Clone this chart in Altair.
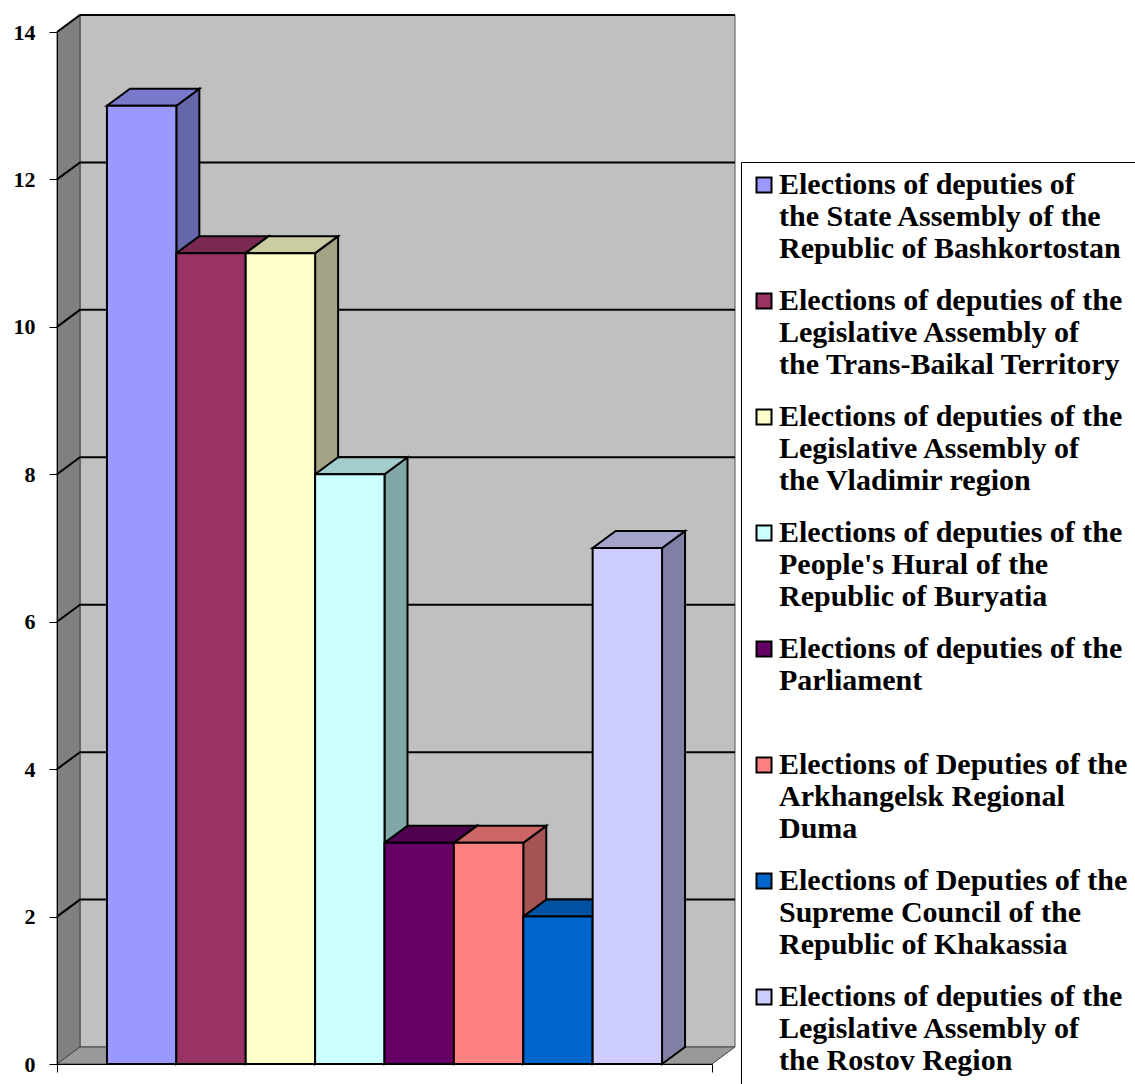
import altair as alt
import pandas as pd

# ---------------- data ----------------
series_lines = [
    ["\u00a0Elections of deputies of", "the State Assembly of the", "Republic of Bashkortostan"],
    ["Elections of deputies of the", "Legislative Assembly of", "the Trans-Baikal Territory"],
    ["Elections of deputies of the", "Legislative Assembly of", "the Vladimir region"],
    ["Elections of deputies of the", "People's Hural of the", "Republic of Buryatia"],
    ["Elections of deputies of the", "Parliament", "\u00a0"],
    ["Elections of Deputies of the", "Arkhangelsk Regional", "Duma"],
    ["Elections of Deputies of the", "Supreme Council of the", "Republic of Khakassia"],
    ["Elections of deputies of the", "Legislative Assembly of", "the Rostov Region", "\u00a0"],
]
values = [13, 11, 11, 8, 3, 3, 2, 7]
y_ticks = [0, 2, 4, 6, 8, 10, 12, 14]

front_colors = ["#9999FF", "#993366", "#FFFFCC", "#CCFFFF", "#660066", "#FF8080", "#0066CC", "#CCCCFF"]
top_colors = ["#7A7ACC", "#7A2952", "#CCCCA3", "#A3CCCC", "#520052", "#CC6666", "#0052A3", "#A3A3CC"]
side_colors = ["#6666AA", "#661F44", "#A3A385", "#80A8A8", "#440044", "#A65353", "#004488", "#8080A6"]

series = ["|".join(lines) for lines in series_lines]

# ---------------- layout ----------------
PLOT_W, PLOT_H = 655, 1032
Y_MAX = 14
GAP = 0.72                      # empty space (in bar slots) at each end
X_MAX = len(values) + 2 * GAP
DX = 23 / (PLOT_W / X_MAX)      # depth offset, horizontal (data units)
DY = 17 / (PLOT_H / Y_MAX)      # depth offset, vertical (data units)

xs = alt.Scale(domain=[0, X_MAX], nice=False, zero=False)
ys = alt.Scale(domain=[0, Y_MAX], nice=False, zero=False)

x_axis = alt.Axis(values=[0, X_MAX], labels=False, title=None, tickSize=8,
                  tickColor="#000000", domainColor="#000000", grid=False, zindex=1)
y_axis = alt.Axis(values=y_ticks, title=None, tickSize=8, tickColor="#000000",
                  domainColor="#000000", grid=False, labelPadding=14,
                  labelFont="Liberation Serif", labelFontSize=22,
                  labelFontWeight="bold", labelColor="#000000", zindex=1)

# ---------------- geometry tables ----------------
front_rows, top_rows, side_rows = [], [], []
for i, (s, v) in enumerate(zip(series, values)):
    x0, x1 = GAP + i, GAP + i + 1
    front_rows.append(dict(series=s, x=x0, x2=x1, y=0, y2=v))
    top_rows.append(dict(series=s, y=v, x=x0, x2=x1))
    top_rows.append(dict(series=s, y=v + DY, x=x0 + DX, x2=x1 + DX))
    side_rows.append(dict(series=s, x=x1, y=0, y2=v))
    side_rows.append(dict(series=s, x=x1 + DX, y=DY, y2=v + DY))
front_df = pd.DataFrame(front_rows)
top_df = pd.DataFrame(top_rows)
side_df = pd.DataFrame(side_rows)

back_df = pd.DataFrame([dict(x=DX, x2=X_MAX + DX, y=DY, y2=Y_MAX + DY)])
leftwall_df = pd.DataFrame([dict(x=0, y=0, y2=Y_MAX), dict(x=DX, y=DY, y2=Y_MAX + DY)])
floor_df = pd.DataFrame([dict(y=0, x=0, x2=X_MAX), dict(y=DY, x=DX, x2=X_MAX + DX)])

grid_rows = []
for t in y_ticks[1:]:
    grid_rows.append(dict(g=t, k=0, x=0, y=t))
    grid_rows.append(dict(g=t, k=1, x=DX, y=t + DY))
    grid_rows.append(dict(g=t, k=2, x=X_MAX + DX, y=t + DY))
grid_df = pd.DataFrame(grid_rows)

# ---------------- layers ----------------
back = alt.Chart(back_df).mark_rect(fill="#C0C0C0", stroke="#555555", strokeWidth=1).encode(
    x=alt.X("x:Q", scale=xs, axis=x_axis), x2="x2:Q",
    y=alt.Y("y:Q", scale=ys, axis=y_axis), y2="y2:Q",
)
leftwall = alt.Chart(leftwall_df).mark_area(
    orient="vertical", fill="#808080", stroke="#444444", strokeWidth=1
).encode(
    x=alt.X("x:Q", scale=xs, axis=x_axis),
    y=alt.Y("y:Q", scale=ys, axis=y_axis, stack=None), y2="y2:Q",
)
floor = alt.Chart(floor_df).mark_area(
    orient="horizontal", fill="#999999", stroke="#444444", strokeWidth=1
).encode(
    y=alt.Y("y:Q", scale=ys, axis=y_axis),
    x=alt.X("x:Q", scale=xs, axis=x_axis, stack=None), x2="x2:Q",
)
grid = alt.Chart(grid_df).mark_line(color="#000000", strokeWidth=2).encode(
    x=alt.X("x:Q", scale=xs, axis=x_axis),
    y=alt.Y("y:Q", scale=ys, axis=y_axis),
    detail="g:N",
    order="k:Q",
)
sides = alt.Chart(side_df).mark_area(
    orient="vertical", stroke="#000000", strokeWidth=2, opacity=1
).encode(
    x=alt.X("x:Q", scale=xs, axis=x_axis),
    y=alt.Y("y:Q", scale=ys, axis=y_axis, stack=None), y2="y2:Q",
    fill=alt.Fill("series:N", scale=alt.Scale(domain=series, range=side_colors), legend=None),
    detail="series:N",
)
tops = alt.Chart(top_df).mark_area(
    orient="horizontal", stroke="#000000", strokeWidth=2, opacity=1
).encode(
    y=alt.Y("y:Q", scale=ys, axis=y_axis),
    x=alt.X("x:Q", scale=xs, axis=x_axis, stack=None), x2="x2:Q",
    fill=alt.Fill("series:N", scale=alt.Scale(domain=series, range=top_colors), legend=None),
    detail="series:N",
)
fronts = alt.Chart(front_df).mark_rect(stroke="#000000", strokeWidth=2, opacity=1).encode(
    x=alt.X("x:Q", scale=xs, axis=x_axis),
    x2="x2:Q",
    y=alt.Y("y:Q", scale=ys, axis=y_axis),
    y2="y2:Q",
    fill=alt.Fill(
        "series:N",
        scale=alt.Scale(domain=series, range=front_colors),
        legend=alt.Legend(
            orient="none", legendX=684, legendY=130, title=None,
            labelExpr="split(datum.label, '|')",
            labelFont="Liberation Serif", labelFontSize=30, labelFontWeight="bold",
            labelColor="#000000", labelLimit=600, labelOffset=0, labelBaseline="middle",
            symbolType="square", symbolSize=225, symbolStrokeColor="#000000",
            symbolStrokeWidth=2, symbolOpacity=1,
            strokeColor="#000000", padding=8, rowPadding=22,
        ),
    ),
)

chart = alt.layer(back, leftwall, floor, grid, sides, tops, fronts).resolve_scale(
    fill="independent"
).properties(
    width=PLOT_W,
    height=PLOT_H,
    padding={"left": 57, "top": 32, "right": 1135 - 57 - PLOT_W, "bottom": 1084 - 32 - PLOT_H},
    autosize=alt.AutoSizeParams(type="none"),
    background="#FFFFFF",
).configure_view(strokeWidth=0)

chart.save("out.html", embed_options={"renderer": "svg", "actions": False})
